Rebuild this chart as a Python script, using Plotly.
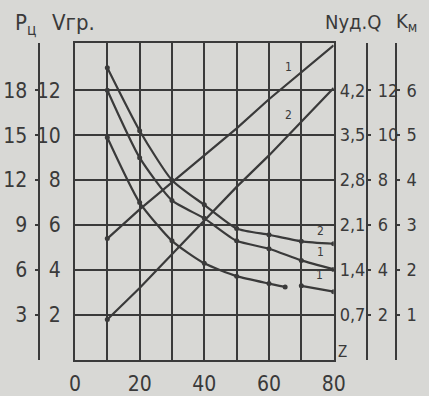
import plotly.graph_objects as go

# ---- data ----
z_vals = [10, 20, 30, 40, 50, 60, 70, 80]
# decreasing curves (V units on the left scale)
curve_a = [13.0, 10.2, 8.0, 6.9, 5.85, 5.57, 5.28, 5.17]    # label "2"
curve_b = [12.0, 9.0, 7.1, 6.3, 5.3, 4.95, 4.43, 4.03]      # label "1"
curve_c_z = [10, 20, 30, 40, 50, 60, 65]
curve_c = [9.9, 7.0, 5.3, 4.3, 3.73, 3.4, 3.25]             # label "1"
curve_c2_z = [70, 80]
curve_c2 = [3.3, 3.04]
# rising straight lines
line1 = [5.4, 6.7, 7.9, 9.1, 10.3, 11.6, 12.8, 14.0]        # label "1"
line2 = [1.8, 3.2, 4.7, 6.2, 7.7, 9.1, 10.6, 12.1]          # label "2"

x_tickvals = [0, 10, 20, 30, 40, 50, 60, 70, 80]
x_ticktext = ["0", "", "20", "", "40", "", "60", "", "80"]
v_tickvals = [2, 4, 6, 8, 10, 12]
p_tickvals = [3, 6, 9, 12, 15, 18]
n_tickvals = [0.7, 1.4, 2.1, 2.8, 3.5, 4.2]
n_ticktext = ["0,7", "1,4", "2,1", "2,8", "3,5", "4,2"]
q_tickvals = [2, 4, 6, 8, 10, 12]
k_tickvals = [1, 2, 3, 4, 5, 6]

W, H = 429, 396
L, R, T, B = 72, 342, 43, 362
VMAX = 14.1

INK = "#3a3a3a"
BG = "#d8d8d5"
FONT = "Liberation Sans Narrow, DejaVu Sans Condensed, Arial Narrow, sans-serif"

fig = go.Figure()

def add_curve(xs, ys):
    fig.add_trace(go.Scatter(
        x=xs, y=ys, mode="lines+markers",
        line=dict(color=INK, width=2.2, shape="spline", smoothing=0.6),
        marker=dict(size=5, color=INK),
        showlegend=False, hoverinfo="skip"))

add_curve(z_vals, curve_a)
add_curve(z_vals, curve_b)
add_curve(curve_c_z, curve_c)
add_curve(curve_c2_z, curve_c2)
fig.add_trace(go.Scatter(x=z_vals, y=line1, mode="lines",
                         line=dict(color=INK, width=2.2), showlegend=False))
fig.add_trace(go.Scatter(x=z_vals, y=line2, mode="lines",
                         line=dict(color=INK, width=2.2), showlegend=False))
fig.add_trace(go.Scatter(x=[z_vals[0]], y=[line1[0]], mode="markers",
                         marker=dict(size=5, color=INK), showlegend=False))
fig.add_trace(go.Scatter(x=[z_vals[0]], y=[line2[0]], mode="markers",
                         marker=dict(size=5, color=INK), showlegend=False))

# invisible traces to activate the extra axes
for ax in ["y2", "y3", "y4", "y5"]:
    fig.add_trace(go.Scatter(x=[0], y=[0], yaxis=ax, mode="markers",
                             marker=dict(opacity=0), showlegend=False, hoverinfo="skip"))

tickfont = dict(family=FONT, size=21, color=INK)
smallfont = dict(family=FONT, size=18, color=INK)

fig.update_layout(
    width=W, height=H,
    margin=dict(l=0, r=0, t=T, b=H - B, pad=0),
    paper_bgcolor=BG, plot_bgcolor=BG,
    xaxis=dict(domain=[L / W, R / W], range=[0, 80],
               tickvals=x_tickvals, ticktext=x_ticktext,
               showgrid=True, gridcolor=INK, gridwidth=2,
               showline=True, linecolor=INK, linewidth=2, mirror=True,
               zeroline=False, ticks="", tickfont=tickfont,
               ticklabelstandoff=4),
    yaxis=dict(range=[0, VMAX], tickvals=v_tickvals,
               showgrid=True, gridcolor=INK, gridwidth=2,
               showline=True, linecolor=INK, linewidth=2, mirror=True,
               zeroline=False, ticks="", tickfont=tickfont,
               ticklabelstandoff=8),
    yaxis2=dict(overlaying="y", anchor="free", position=34 / W, side="left",
                range=[0, VMAX * 1.5], tickvals=p_tickvals,
                showgrid=False, zeroline=False,
                showline=True, linecolor=INK, linewidth=2,
                ticks="outside", ticklen=3, tickwidth=2, tickcolor=INK,
                tickfont=tickfont, ticklabelstandoff=3),
    yaxis3=dict(overlaying="y", anchor="x", side="right",
                range=[0, VMAX * 0.35], tickvals=n_tickvals, ticktext=n_ticktext,
                showgrid=False, zeroline=False, showline=False, ticks="",
                tickfont=smallfont, ticklabelstandoff=5),
    yaxis4=dict(overlaying="y", anchor="free", position=377 / W, side="right",
                range=[0, VMAX], tickvals=q_tickvals,
                showgrid=False, zeroline=False,
                showline=True, linecolor=INK, linewidth=2,
                ticks="outside", ticklen=3, tickwidth=2, tickcolor=INK,
                tickfont=smallfont, ticklabelstandoff=3),
    yaxis5=dict(overlaying="y", anchor="free", position=407 / W, side="right",
                range=[0, VMAX / 2], tickvals=k_tickvals,
                showgrid=False, zeroline=False,
                showline=True, linecolor=INK, linewidth=2,
                ticks="outside", ticklen=3, tickwidth=2, tickcolor=INK,
                tickfont=smallfont, ticklabelstandoff=3),
)

def px_ann(text, x, y, size=20, xanchor="center"):
    fig.add_annotation(text=text, x=x / W, y=(B - y) / (B - T),
                       xref="paper", yref="paper",
                       showarrow=False, xanchor=xanchor, yanchor="middle",
                       font=dict(family=FONT, size=size, color=INK))

px_ann("P<sub>ц</sub>", 20, 24, 22)
px_ann("Vгр.", 70, 22, 22)
px_ann("Nуд.Q", 362, 22, 20)
px_ann("K<sub>м</sub>", 418, 22, 20)
px_ann("Z", 351, 354, 15)

# curve labels (data coords)
for txt, xx, yy in [("1", 66.1, 13.05), ("2", 66.1, 10.9),
                    ("2", 75.9, 5.75), ("1", 75.9, 4.82), ("1", 75.6, 3.76)]:
    fig.add_annotation(text=txt, x=xx, y=yy, xref="x", yref="y", showarrow=False,
                       font=dict(family=FONT, size=12, color=INK))

fig.write_html("out.html", config={"displayModeBar": False},
               post_script="document.body.style.margin='0';document.body.style.padding='0';")
